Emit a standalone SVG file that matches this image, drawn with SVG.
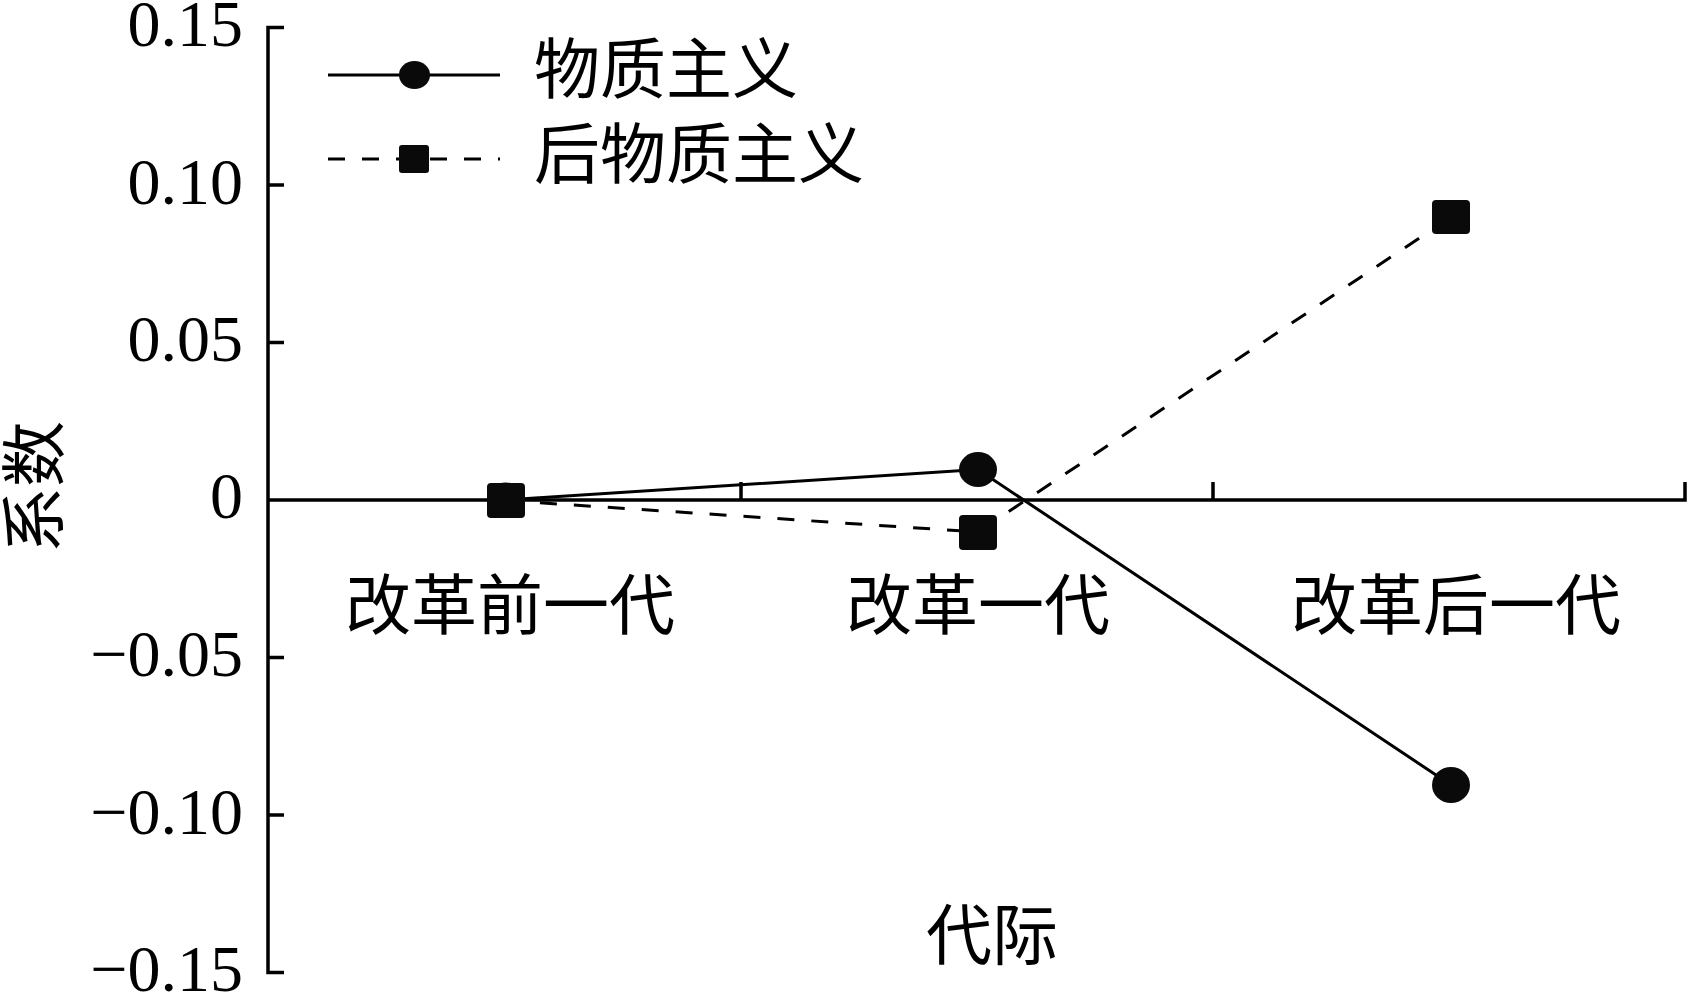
<svg xmlns="http://www.w3.org/2000/svg" width="1689" height="992" viewBox="0 0 1689 992">
<style>
.ax{stroke:#000;stroke-width:3.5;fill:none}
.num{font-family:"Liberation Serif","Times New Roman",serif;font-size:66px;fill:#000;text-anchor:end}
.cjk{font-family:"Noto Sans CJK SC","Noto Sans CJK TC",sans-serif;font-size:66px;fill:#000}
.mid{text-anchor:middle}
.solid{stroke:#000;stroke-width:3;fill:none}
.dash{stroke:#000;stroke-width:3;fill:none;stroke-dasharray:17 17}
.mk{fill:#0a0a0a;stroke:none}
</style>
<rect width="1689" height="992" fill="#fff"/>
<g id="axes">
<path class="ax" d="M284,27.5H268V972.5H284M268,185H284M268,342.5H284M268,657.5H284M268,815H284"/>
<path class="ax" d="M268,500H1685V482M741,500V482M1213,500V482"/>
</g>
<g id="y-labels">
<text class="num" x="243" y="46">0.15</text>
<text class="num" x="243" y="204">0.10</text>
<text class="num" x="243" y="361">0.05</text>
<text class="num" x="243" y="518">0</text>
<text class="num" x="243" y="676">−0.05</text>
<text class="num" x="243" y="834">−0.10</text>
<text class="num" x="243" y="991">−0.15</text>
</g>
<g id="x-labels">
<text class="cjk mid" x="510" y="629">改革前一代</text>
<text class="cjk mid" x="978" y="629">改革一代</text>
<text class="cjk mid" x="1456" y="629">改革后一代</text>
<text class="cjk mid" x="992" y="959">代际</text>
<text class="cjk mid" transform="translate(58,487) rotate(-90)">系数</text>
</g>
<g id="connectors">
<polyline id="line-materialism" class="solid" points="506,500 978,469.5 1451,785"/>
<polyline id="line-postmaterialism" class="dash" points="506,500.5 978,532 1451,217"/>
</g>
<g id="node-materialism">
<ellipse class="mk" cx="506" cy="500" rx="19" ry="17.5"/>
<ellipse class="mk" cx="978" cy="469.5" rx="19" ry="17.5"/>
<ellipse class="mk" cx="1451" cy="785" rx="19" ry="18"/>
</g>
<g id="node-postmaterialism">
<rect class="mk" x="487" y="483" width="38" height="35" rx="4"/>
<rect class="mk" x="959" y="515" width="38" height="35" rx="4"/>
<rect class="mk" x="1432" y="200" width="38" height="34" rx="4"/>
</g>
<g id="legend">
<line class="solid" x1="328" y1="75" x2="500" y2="75"/>
<ellipse class="mk" cx="414.5" cy="75" rx="15.5" ry="14"/>
<text class="cjk" x="534" y="93">物质主义</text>
<line class="dash" x1="328" y1="159" x2="500" y2="159"/>
<rect class="mk" x="399" y="145" width="30" height="28" rx="3"/>
<text class="cjk" x="534" y="178">后物质主义</text>
</g>
</svg>
